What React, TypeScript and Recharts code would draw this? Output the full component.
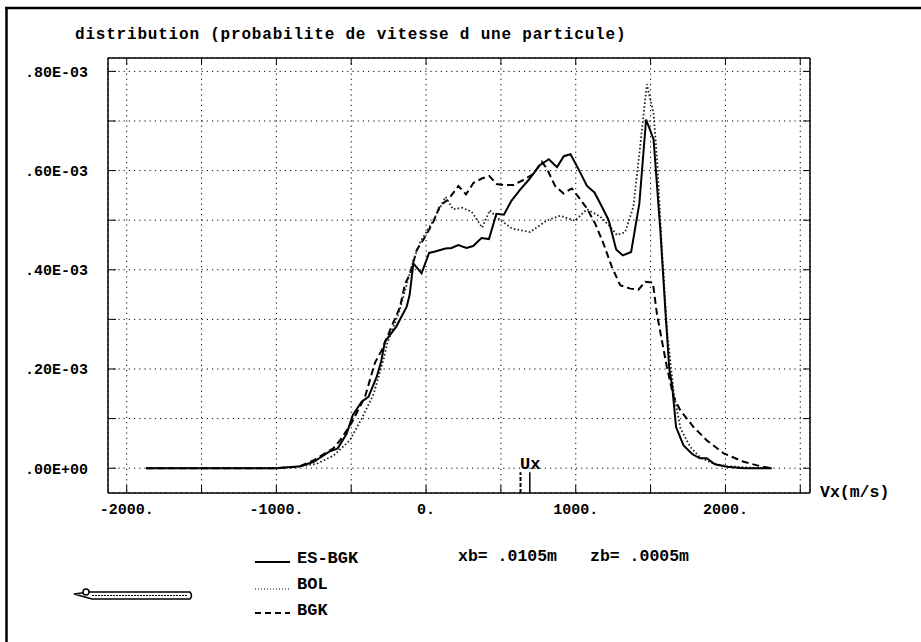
import React from 'react';
import { LineChart, Line, XAxis, YAxis, CartesianGrid, ReferenceLine } from 'recharts';

// velocities (m/s) and probability values (in units of 1E-03) read per curve
const esbgkV = [-1870, -1000, -840, -750, -650, -590, -530, -490, -430, -385, -330, -300, -275, -200, -130, -110, -85, -30, 20, 60, 95, 130, 170, 215, 270, 315, 370, 420, 470, 520, 570, 630, 685, 760, 820, 875, 920, 965, 1020, 1075, 1125, 1175, 1220, 1270, 1315, 1370, 1425, 1470, 1520, 1565, 1600, 1625, 1645, 1670, 1720, 1780, 1830, 1875, 1930, 2010, 2120, 2310];
const esbgkP = [0, 0, 0.004, 0.013, 0.033, 0.04, 0.07, 0.107, 0.134, 0.144, 0.184, 0.215, 0.255, 0.285, 0.325, 0.349, 0.413, 0.393, 0.434, 0.437, 0.44, 0.443, 0.444, 0.45, 0.444, 0.448, 0.464, 0.462, 0.513, 0.511, 0.539, 0.562, 0.581, 0.611, 0.623, 0.607, 0.629, 0.633, 0.602, 0.569, 0.556, 0.527, 0.5, 0.441, 0.429, 0.436, 0.534, 0.703, 0.663, 0.48, 0.312, 0.2, 0.164, 0.083, 0.046, 0.028, 0.02, 0.02, 0.008, 0.003, 0, 0];

const bolV = [-1870, -1000, -850, -730, -620, -510, -430, -350, -285, -260, -175, -85, -40, 30, 85, 130, 180, 240, 305, 375, 425, 475, 575, 695, 810, 895, 995, 1075, 1165, 1230, 1275, 1330, 1385, 1430, 1475, 1520, 1545, 1575, 1610, 1655, 1700, 1765, 1830, 1920, 2010, 2230, 2310];
const bolP = [0, 0, 0.003, 0.009, 0.025, 0.056, 0.1, 0.15, 0.218, 0.251, 0.32, 0.419, 0.455, 0.49, 0.52, 0.547, 0.522, 0.525, 0.517, 0.485, 0.52, 0.505, 0.483, 0.476, 0.5, 0.509, 0.499, 0.522, 0.507, 0.487, 0.47, 0.476, 0.527, 0.648, 0.774, 0.715, 0.614, 0.446, 0.278, 0.151, 0.08, 0.043, 0.022, 0.009, 0.004, 0, 0];

const bgkV = [-1870, -1000, -850, -750, -620, -575, -500, -408, -341, -296, -241, -174, -140, -107, -62, -7, 49, 94, 149, 216, 267, 316, 372, 423, 472, 517, 584, 650, 717, 773, 807, 862, 918, 974, 1018, 1074, 1130, 1185, 1241, 1297, 1364, 1419, 1464, 1515, 1542, 1575, 1609, 1653, 1698, 1787, 1876, 1988, 2121, 2233, 2310];
const bgkP = [0, 0, 0.003, 0.016, 0.04, 0.056, 0.09, 0.144, 0.213, 0.238, 0.278, 0.325, 0.372, 0.392, 0.44, 0.466, 0.497, 0.53, 0.542, 0.569, 0.552, 0.575, 0.584, 0.589, 0.573, 0.571, 0.571, 0.581, 0.593, 0.618, 0.604, 0.569, 0.554, 0.564, 0.547, 0.524, 0.493, 0.453, 0.406, 0.369, 0.362, 0.36, 0.376, 0.374, 0.312, 0.258, 0.204, 0.144, 0.117, 0.083, 0.056, 0.03, 0.013, 0.004, 0];

const xTicks = [-2000, -1500, -1000, -500, 0, 500, 1000, 1500, 2000, 2500];
const xTickLabels = ['-2000.', '', '-1000.', '', '0.', '', '1000.', '', '2000.', ''];
const yTicks = [0, 0.1, 0.2, 0.3, 0.4, 0.5, 0.6, 0.7, 0.8];
const yTickLabels = ['.00E+00', '', '.20E-03', '', '.40E-03', '', '.60E-03', '', '.80E-03'];

// Ux markers: BGK (dashed) and ES-BGK (solid)
const uxV = [631, 693];

const X_DOMAIN = [-2125, 2565];
const Y_DOMAIN = [-0.05, 0.827];
const MONO = "'Liberation Mono', 'Courier New', monospace";

const toPoints = (v: number[], p: number[]) => v.map((x, i) => ({ v: x, p: p[i] }));
const esbgk = toPoints(esbgkV, esbgkP);
const bol = toPoints(bolV, bolP);
const bgk = toPoints(bgkV, bgkP);

const tickStyle = { fontFamily: MONO, fontSize: 15, fontWeight: 'bold', fill: '#000' };
const axisLine = { stroke: '#000', strokeWidth: 1.5 };

const App: React.FC = () => {
  return (
    <div style={{ position: 'absolute', left: 0, top: 0, width: 921, height: 642, background: '#fff', overflow: 'hidden' }}>
      <LineChart width={921} height={642} margin={{ top: 57, right: 101, bottom: 119, left: 0 }}>
        <CartesianGrid xAxisId="b" yAxisId="l" stroke="#000" strokeDasharray="1.2 4" />
        <XAxis
          xAxisId="b"
          type="number"
          dataKey="v"
          domain={X_DOMAIN}
          allowDataOverflow
          ticks={xTicks}
          interval={0}
          tickFormatter={(v: number) => xTickLabels[xTicks.indexOf(v)] ?? ''}
          tick={tickStyle}
          tickSize={-8}
          tickMargin={18}
          tickLine={{ stroke: '#000' }}
          axisLine={axisLine}
          height={30}
        />
        <XAxis
          xAxisId="t"
          orientation="top"
          type="number"
          dataKey="v"
          domain={X_DOMAIN}
          allowDataOverflow
          ticks={xTicks}
          interval={0}
          tickFormatter={() => ''}
          tickSize={-7}
          tickLine={{ stroke: '#000' }}
          axisLine={axisLine}
          height={1}
        />
        <YAxis
          yAxisId="l"
          type="number"
          domain={Y_DOMAIN}
          allowDataOverflow
          ticks={yTicks}
          interval={0}
          tickFormatter={(v: number) => yTickLabels[yTicks.indexOf(v)] ?? ''}
          tick={tickStyle}
          tickSize={-8}
          tickMargin={28}
          tickLine={{ stroke: '#000' }}
          axisLine={axisLine}
          width={108}
        />
        <YAxis
          yAxisId="r"
          orientation="right"
          type="number"
          domain={Y_DOMAIN}
          allowDataOverflow
          ticks={yTicks}
          interval={0}
          tickFormatter={() => ''}
          tickSize={-7}
          tickLine={{ stroke: '#000' }}
          axisLine={axisLine}
          width={10}
        />
        <ReferenceLine
          xAxisId="b"
          yAxisId="l"
          segment={[{ x: uxV[0], y: -0.05 }, { x: uxV[0], y: -0.008 }]}
          stroke="#000"
          strokeWidth={2}
          strokeDasharray="4 2"
        />
        <ReferenceLine
          xAxisId="b"
          yAxisId="l"
          segment={[{ x: uxV[1], y: -0.05 }, { x: uxV[1], y: -0.008 }]}
          stroke="#000"
          strokeWidth={1.5}
        />
        <Line xAxisId="b" yAxisId="l" data={bgk} dataKey="p" type="linear" stroke="#000" strokeWidth={2} strokeDasharray="7 4" dot={false} isAnimationActive={false} />
        <Line xAxisId="b" yAxisId="l" data={bol} dataKey="p" type="linear" stroke="#222" strokeWidth={1.8} strokeDasharray="1.6 2.2" dot={false} isAnimationActive={false} />
        <Line xAxisId="b" yAxisId="l" data={esbgk} dataKey="p" type="linear" stroke="#000" strokeWidth={2} dot={false} isAnimationActive={false} />
      </LineChart>

      <svg width={921} height={642} style={{ position: 'absolute', left: 0, top: 0, pointerEvents: 'none' }}>
        {/* page frame */}
        <line x1={5} y1={8} x2={921} y2={8} stroke="#000" strokeWidth={2.5} />
        <line x1={6.5} y1={7} x2={6.5} y2={642} stroke="#000" strokeWidth={2.5} />

        <text x={75} y={39} fontFamily={MONO} fontSize={16} fontWeight="bold" letterSpacing={0.8}>
          distribution (probabilite de vitesse d une particule)
        </text>
        <text x={820} y={497} fontFamily={MONO} fontSize={16.5} fontWeight="bold">Vx(m/s)</text>
        <text x={520} y={469} fontFamily={MONO} fontSize={17} fontWeight="bold">Ux</text>

        {/* legend */}
        <line x1={255} y1={562} x2={290} y2={562} stroke="#000" strokeWidth={2} />
        <line x1={255} y1={589} x2={290} y2={589} stroke="#000" strokeWidth={1.2} strokeDasharray="1 2" />
        <line x1={255} y1={613} x2={290} y2={613} stroke="#000" strokeWidth={2} strokeDasharray="6 4" />
        <text x={297} y={563} fontFamily={MONO} fontSize={17} fontWeight="bold">ES-BGK</text>
        <text x={297} y={589} fontFamily={MONO} fontSize={17} fontWeight="bold">BOL</text>
        <text x={297} y={615} fontFamily={MONO} fontSize={17} fontWeight="bold">BGK</text>

        <text x={458} y={561} fontFamily={MONO} fontSize={16.5} fontWeight="bold">xb= .0105m</text>
        <text x={590} y={561} fontFamily={MONO} fontSize={16.5} fontWeight="bold">zb= .0005m</text>

        {/* arrow glyph */}
        <path d="M74 594 L90 592 L190 592 Q193 595.5 190 599 L92 599 Z" fill="none" stroke="#000" strokeWidth={1.5} />
        <line x1={92} y1={595.5} x2={188} y2={595.5} stroke="#000" strokeWidth={1} strokeDasharray="2 1" />
        <circle cx={86} cy={592} r={3} fill="#fff" stroke="#000" strokeWidth={1.5} />
      </svg>
    </div>
  );
};

export default App;
